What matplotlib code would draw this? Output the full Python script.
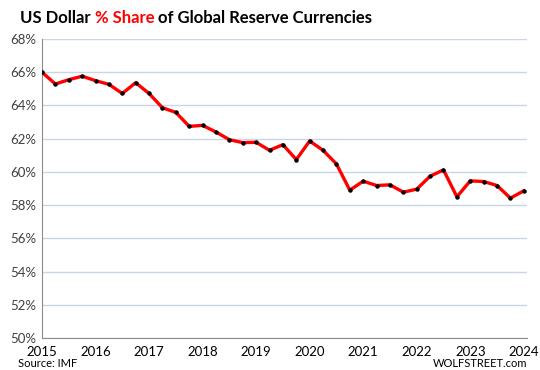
import numpy as np
import matplotlib
matplotlib.use("Agg")
import matplotlib.pyplot as plt

# quarterly data, 2015 Q1 .. 2024 Q1
start_year = 2015
usd_share = [66.0, 65.29, 65.55, 65.76, 65.49, 65.27, 64.72, 65.37, 64.72, 63.86,
             63.58, 62.74, 62.8, 62.4, 61.94, 61.76, 61.78, 61.3, 61.64, 60.74,
             61.86, 61.3, 60.48, 58.9, 59.44, 59.18, 59.22, 58.78, 58.96, 59.74,
             60.12, 58.5, 59.46, 59.42, 59.18, 58.42, 58.86]
year_ticks = list(range(2015, 2025))
pct_ticks = list(range(50, 70, 2))

plt.rcParams['font.family'] = ['Lato', 'DejaVu Sans']

fig = plt.figure(figsize=(5.4, 3.7), dpi=100)
ax = fig.add_axes([42/540, 1 - 338/370, (527 - 42)/540, (338 - 39)/370])

x = start_year + np.arange(len(usd_share)) / 4.0
ax.plot(x, usd_share, color="#ff0000", lw=2.4, zorder=3)
ax.plot(x, usd_share, ls="none", marker="o", ms=2.2, color="black", zorder=4)

ax.set_xlim(2015, 2024.06)
ax.set_ylim(50, 68)
ax.set_xticks(year_ticks)
ax.set_yticks(pct_ticks)
ax.set_yticklabels([f"{v}%" for v in pct_ticks])
ax.yaxis.grid(True, color="#c9d5ea", lw=1.0)
ax.set_axisbelow(True)

for s in ["top", "right"]:
    ax.spines[s].set_visible(False)
ax.spines["left"].set_color("#8c8c8c")
ax.spines["bottom"].set_color("#8c8c8c")
ax.tick_params(axis="both", length=0, labelsize=9.5, colors="#404040")
ax.tick_params(axis="x", pad=6, labelcolor="black")
ax.tick_params(axis="y", pad=4)

# title with coloured part
ty = 1 - 18/370
t1 = fig.text(20/540, ty, "US Dollar ", fontsize=12, fontweight="bold", va="center")
fig.canvas.draw()
r = fig.canvas.get_renderer()
bb = t1.get_window_extent(r)
t2 = fig.text(bb.x1/540, ty, "% Share ", fontsize=12, fontweight="bold",
              color="#ff0000", va="center")
bb2 = t2.get_window_extent(r)
fig.text(bb2.x1/540, ty, "of Global Reserve Currencies", fontsize=12,
         fontweight="bold", va="center")

fig.text(18/540, 1/370, "Source: IMF", fontsize=8, va="bottom")
fig.text(527/540, 1/370, "WOLFSTREET.com", fontsize=8, va="bottom", ha="right")

fig.savefig("out.png", dpi=100)
